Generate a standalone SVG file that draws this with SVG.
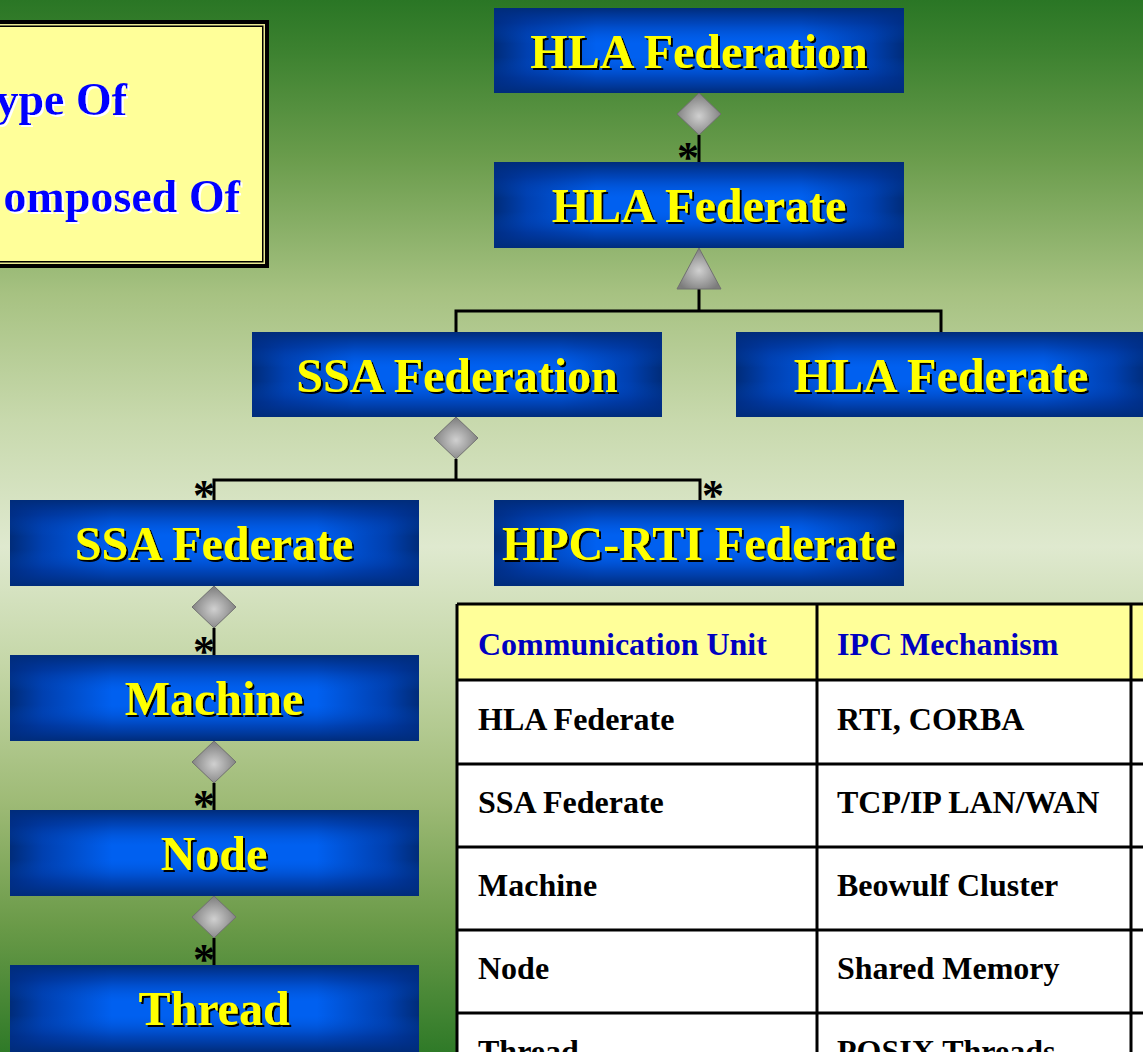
<svg xmlns="http://www.w3.org/2000/svg" width="1143" height="1052" viewBox="0 0 1143 1052">
<defs>
  <linearGradient id="bg" x1="0" y1="0" x2="0" y2="1">
    <stop offset="0" stop-color="#2a7625"/>
    <stop offset="0.05" stop-color="#3d8230"/>
    <stop offset="0.15" stop-color="#6a9c4c"/>
    <stop offset="0.28" stop-color="#a7c282"/>
    <stop offset="0.40" stop-color="#c8d9ad"/>
    <stop offset="0.52" stop-color="#dfe9cf"/>
    <stop offset="0.63" stop-color="#c5d7a8"/>
    <stop offset="0.76" stop-color="#9fbb77"/>
    <stop offset="0.88" stop-color="#6a9a48"/>
    <stop offset="1" stop-color="#2f7a28"/>
  </linearGradient>
  <linearGradient id="nh" x1="0" y1="0" x2="1" y2="0">
    <stop offset="0" stop-color="#002c7a"/>
    <stop offset="0.08" stop-color="#0040b0"/>
    <stop offset="0.25" stop-color="#0060f0"/>
    <stop offset="0.75" stop-color="#0060f0"/>
    <stop offset="0.92" stop-color="#0040b0"/>
    <stop offset="1" stop-color="#002c7a"/>
  </linearGradient>
  <linearGradient id="nv" x1="0" y1="0" x2="0" y2="1">
    <stop offset="0" stop-color="#002c7a" stop-opacity="1"/>
    <stop offset="0.18" stop-color="#003090" stop-opacity="0.55"/>
    <stop offset="0.42" stop-color="#0050d0" stop-opacity="0"/>
    <stop offset="0.58" stop-color="#0050d0" stop-opacity="0"/>
    <stop offset="0.82" stop-color="#003090" stop-opacity="0.55"/>
    <stop offset="1" stop-color="#002c7a" stop-opacity="1"/>
  </linearGradient>
  <radialGradient id="gray" cx="0.5" cy="0.55" r="0.55">
    <stop offset="0" stop-color="#d0d0d0"/>
    <stop offset="1" stop-color="#7c7c7c"/>
  </radialGradient>
  <filter id="sh" x="-5%" y="-20%" width="110%" height="140%">
    <feDropShadow dx="2" dy="2" stdDeviation="0" flood-color="#000" flood-opacity="1"/>
  </filter>
  <filter id="wsh" x="-5%" y="-20%" width="110%" height="140%">
    <feDropShadow dx="2" dy="2" stdDeviation="0" flood-color="#fff" flood-opacity="1"/>
  </filter>
  <style>
    .nb { fill: url(#nh); }
    .no { fill: url(#nv); }
    .lbl { font-family: "Liberation Serif", "Times New Roman", serif; font-weight: bold; font-size: 48px; fill: #ffff00; text-anchor: middle; filter: url(#sh); }
    .leg { font-family: "Liberation Serif", "Times New Roman", serif; font-weight: bold; font-size: 46px; fill: #0000ff; text-anchor: end; filter: url(#wsh); }
    .ln { stroke: #000; stroke-width: 3; fill: none; }
    .dia { fill: url(#gray); stroke: #707070; stroke-width: 1; }
    .star { font-family: "Liberation Serif", "Times New Roman", serif; font-weight: bold; font-size: 44px; fill: #000; text-anchor: middle; }
    .th { font-family: "Liberation Serif", "Times New Roman", serif; font-weight: bold; font-size: 32px; fill: #0000c0; }
    .td { font-family: "Liberation Serif", "Times New Roman", serif; font-weight: bold; font-size: 32px; fill: #000; }
    .grid { stroke: #000; stroke-width: 3; fill: none; }
  </style>
</defs>

<rect x="0" y="0" width="1143" height="1052" fill="url(#bg)"/>

<g id="legend">
  <rect x="-10" y="20" width="279" height="248" fill="#000"/>
  <rect x="-10" y="24" width="275" height="240" fill="#e8e890"/>
  <rect x="-10" y="25.5" width="273.5" height="237" fill="#000"/>
  <rect x="-10" y="27" width="272" height="234" fill="#ffff99"/>
  <text class="leg" x="127" y="115">ype Of</text>
  <text class="leg" x="240" y="212">omposed Of</text>
</g>

<g id="connectors">
  <line class="ln" x1="699" y1="135" x2="699" y2="162"/>
  <polyline class="ln" points="456,332 456,311 941,311 941,332"/>
  <line class="ln" x1="699" y1="289" x2="699" y2="311"/>
  <line class="ln" x1="456" y1="459" x2="456" y2="480"/>
  <polyline class="ln" points="214,500 214,480 700,480 700,500"/>
  <line class="ln" x1="214" y1="628" x2="214" y2="655"/>
  <line class="ln" x1="214" y1="783" x2="214" y2="810"/>
  <line class="ln" x1="214" y1="938" x2="214" y2="965"/>
  <polygon class="dia" points="699,93 721,114 699,135 677,114"/>
  <polygon class="dia" points="699,248 721,289 677,289"/>
  <polygon class="dia" points="456,417 478,438 456,459 434,438"/>
  <polygon class="dia" points="214,586 236,607 214,628 192,607"/>
  <polygon class="dia" points="214,741 236,762 214,783 192,762"/>
  <polygon class="dia" points="214,896 236,917 214,938 192,917"/>
  <text class="star" x="688" y="172">*</text>
  <text class="star" x="204" y="510">*</text>
  <text class="star" x="713" y="510">*</text>
  <text class="star" x="204" y="666">*</text>
  <text class="star" x="204" y="820">*</text>
  <text class="star" x="204" y="974">*</text>
</g>

<g id="hla-federation">
  <rect class="nb" x="494" y="8" width="410" height="85"/>
  <rect class="no" x="494" y="8" width="410" height="85"/>
  <text class="lbl" x="699" y="68">HLA Federation</text>
</g>
<g id="hla-federate">
  <rect class="nb" x="494" y="162" width="410" height="86"/>
  <rect class="no" x="494" y="162" width="410" height="86"/>
  <text class="lbl" x="699" y="222">HLA Federate</text>
</g>
<g id="ssa-federation">
  <rect class="nb" x="252" y="332" width="410" height="85"/>
  <rect class="no" x="252" y="332" width="410" height="85"/>
  <text class="lbl" x="457" y="392">SSA Federation</text>
</g>
<g id="hla-federate-2">
  <rect class="nb" x="736" y="332" width="410" height="85"/>
  <rect class="no" x="736" y="332" width="410" height="85"/>
  <text class="lbl" x="941" y="392">HLA Federate</text>
</g>
<g id="ssa-federate">
  <rect class="nb" x="10" y="500" width="409" height="86"/>
  <rect class="no" x="10" y="500" width="409" height="86"/>
  <text class="lbl" x="214" y="560">SSA Federate</text>
</g>
<g id="hpc-rti-federate">
  <rect class="nb" x="494" y="500" width="410" height="86"/>
  <rect class="no" x="494" y="500" width="410" height="86"/>
  <text class="lbl" x="699" y="560">HPC-RTI Federate</text>
</g>
<g id="machine">
  <rect class="nb" x="10" y="655" width="409" height="86"/>
  <rect class="no" x="10" y="655" width="409" height="86"/>
  <text class="lbl" x="214" y="715">Machine</text>
</g>
<g id="node">
  <rect class="nb" x="10" y="810" width="409" height="86"/>
  <rect class="no" x="10" y="810" width="409" height="86"/>
  <text class="lbl" x="214" y="870">Node</text>
</g>
<g id="thread">
  <rect class="nb" x="10" y="965" width="409" height="87"/>
  <rect class="no" x="10" y="965" width="409" height="87"/>
  <text class="lbl" x="214" y="1025">Thread</text>
</g>

<g id="table">
  <rect x="457" y="604" width="700" height="76" fill="#ffff99"/>
  <rect x="457" y="680" width="700" height="380" fill="#ffffff"/>
  <path class="grid" d="M457,604 H1160 M457,680 H1160 M457,764 H1160 M457,847 H1160 M457,930 H1160 M457,1013 H1160 M457,604 V1060 M817,604 V1060 M1131,604 V1060"/>
  <text class="th" x="478" y="655">Communication Unit</text>
  <text class="th" x="837" y="655">IPC Mechanism</text>
  <text class="td" x="478" y="730">HLA Federate</text>
  <text class="td" x="837" y="730">RTI, CORBA</text>
  <text class="td" x="478" y="813">SSA Federate</text>
  <text class="td" x="837" y="813">TCP/IP LAN/WAN</text>
  <text class="td" x="478" y="896">Machine</text>
  <text class="td" x="837" y="896">Beowulf Cluster</text>
  <text class="td" x="478" y="979">Node</text>
  <text class="td" x="837" y="979">Shared Memory</text>
  <text class="td" x="478" y="1062">Thread</text>
  <text class="td" x="837" y="1062">POSIX Threads</text>
</g>
</svg>
